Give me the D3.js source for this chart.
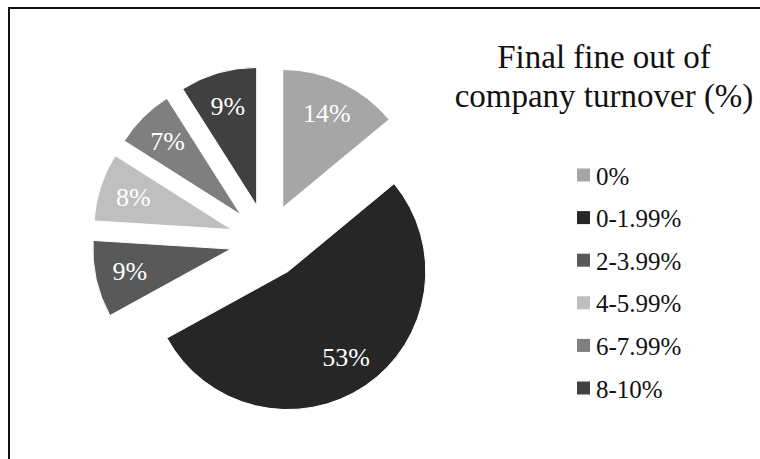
<!DOCTYPE html>
<html>
<head>
<meta charset="utf-8">
<script src="https://cdn.jsdelivr.net/npm/d3@7"></script>
<style>
  body { margin: 0; background: #fff; }
</style>
</head>
<body>
<svg id="chart" width="760" height="459"></svg>
<script>
// data
const categories = ['0%', '0-1.99%', '2-3.99%', '4-5.99%', '6-7.99%', '8-10%'];
const shares = [14, 53, 9, 8, 7, 9];
const fills = ['#a6a6a6', '#262626', '#595959', '#bfbfbf', '#7f7f7f', '#404040'];
const titleLines = ['Final fine out of', 'company turnover (%)'];

const FONT = '"Liberation Serif"';

const svg = d3.select('#chart');

// frame lines (top + left only, like the cropped screenshot)
svg.append('line').attr('x1', 8).attr('y1', 8).attr('x2', 760).attr('y2', 8)
  .attr('stroke', '#111').attr('stroke-width', 2);
svg.append('line').attr('x1', 9).attr('y1', 7).attr('x2', 9).attr('y2', 459)
  .attr('stroke', '#111').attr('stroke-width', 2);

const cx = 267, cy = 241, r = 138, explode = 37;

const data = categories.map((c, i) => ({ cat: c, value: shares[i] }));

const pie = d3.pie().sort(null).value(d => d.value);
const arc = d3.arc().innerRadius(0).outerRadius(r);
const arcs = pie(data);

const color = d3.scaleOrdinal().domain(categories).range(fills);

function offset(d, dist) {
  const a = (d.startAngle + d.endAngle) / 2;
  return [Math.sin(a) * dist, -Math.cos(a) * dist];
}

const g = svg.append('g').attr('transform', `translate(${cx},${cy})`);

const slices = g.selectAll('.slice')
  .data(arcs)
  .enter()
  .append('g')
  .classed('slice', true)
  .attr('transform', d => {
    const o = offset(d, explode);
    return `translate(${o[0]},${o[1]})`;
  });

slices.append('path')
  .attr('d', arc)
  .attr('fill', d => color(d.data.cat))
  .attr('stroke', '#fff')
  .attr('stroke-width', 1);

slices.append('text')
  .attr('x', d => offset(d, r * 0.75)[0])
  .attr('y', d => offset(d, r * 0.75)[1])
  .attr('text-anchor', 'middle')
  .attr('dominant-baseline', 'central')
  .attr('fill', '#fff')
  .style('font-family', FONT)
  .style('font-size', '26px')
  .text(d => d.data.value + '%');

// title
svg.append('text')
  .attr('text-anchor', 'middle')
  .attr('fill', '#111')
  .style('font-family', FONT)
  .style('font-size', '33px')
  .selectAll('tspan')
  .data(titleLines)
  .enter()
  .append('tspan')
  .attr('x', 604)
  .attr('y', (d, i) => 68 + i * 39)
  .text(d => d);

// legend
const ly = d3.scalePoint().domain(categories).range([175, 388]);

const legend = svg.selectAll('.legend')
  .data(categories)
  .enter()
  .append('g')
  .classed('legend', true)
  .attr('transform', d => `translate(577,${ly(d)})`);

legend.append('rect')
  .attr('x', 0).attr('y', -6.5)
  .attr('width', 13).attr('height', 13)
  .attr('fill', d => color(d));

legend.append('text')
  .attr('x', 19)
  .attr('y', 1)
  .attr('dominant-baseline', 'central')
  .attr('fill', '#111')
  .style('font-family', FONT)
  .style('font-size', '25px')
  .text(d => d);
</script>
</body>
</html>
